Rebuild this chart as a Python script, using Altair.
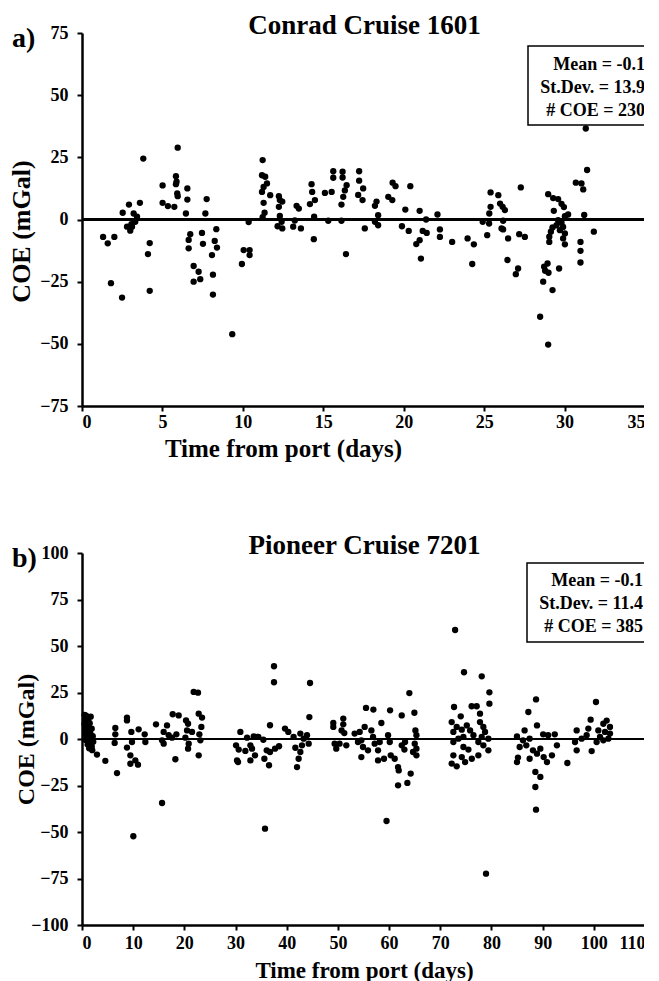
import altair as alt
import pandas as pd

# ---------------- data: panel a (Conrad Cruise 1601) ----------------
A_DAYS = [5.95, 3.81, 5.84, 5.88, 5.84, 5.01, 6.55, 5.92, 5.95, 6.55, 7.75, 5.01, 5.34, 5.74, 3.60, 2.92,
          2.53, 3.21, 3.42, 6.46, 7.67, 3.31, 3.07, 2.80, 3.11, 3.00, 1.31, 2.01, 1.60, 4.21, 4.10, 1.80,
          2.49, 4.21, 8.35, 6.73, 6.63, 7.46, 7.52, 8.25, 8.39, 6.63, 8.08, 6.94, 7.25, 8.14, 6.94, 7.35,
          8.14, 9.34, 10.36, 10.05, 10.42, 10.42, 9.94, 11.23, 11.19, 11.39, 11.50, 11.29, 11.19, 11.70,
          11.29, 11.35, 11.23,
          12.24, 12.30, 12.24, 12.45, 12.30, 12.16, 12.45, 12.41, 13.13, 13.23, 13.61, 13.34, 13.48, 14.27,
          14.31, 14.48, 14.17, 14.43, 14.41, 15.10, 15.52, 15.31, 15.62, 15.62, 16.20, 16.20, 16.45, 16.34,
          16.24, 16.13, 16.13, 16.41, 17.23, 17.23, 17.48, 17.17, 17.44, 18.31, 18.21, 18.41, 18.21, 18.41,
          17.58, 19.31, 19.49, 19.04, 19.29, 20.41, 20.10, 19.89, 20.31, 20.99, 21.39, 21.18, 21.43, 20.99,
          20.78, 21.07, 22.10, 22.25, 22.25, 23.01,
          31.32, 31.40, 30.70, 31.05, 31.16, 31.22, 31.82, 30.99, 30.99, 30.99, 23.97, 24.36, 24.26, 25.40,
          25.88, 25.40, 25.32, 25.99, 26.15, 26.29, 24.91, 25.31, 26.18, 26.08, 26.18, 25.19, 26.49, 27.28,
          27.18, 27.53, 26.45, 27.11, 26.97, 28.98, 29.29, 29.60, 29.81, 29.96, 29.33, 30.22, 30.02, 29.60,
          29.81, 29.50, 29.91, 29.71, 30.02, 29.91, 30.02, 29.25, 29.15, 29.05, 29.05, 28.94, 28.73, 28.79,
          29.00, 28.67, 29.25, 29.66, 28.48, 28.98]
A_COE = [28.9, 24.5, 17.4, 15.2, 14.2, 13.7, 12.5, 10.5, 9.4, 8.0, 8.2, 6.7, 5.4, 5.1, 6.7, 6.0,
         2.7, 2.4, 1.1, 2.4, 2.4, -0.9, -1.9, -2.9, -2.9, -4.5, -7.0, -7.0, -9.6, -9.5, -13.9, -25.6,
         -31.4, -28.7, -3.9, -5.9, -8.2, -5.4, -9.8, -8.6, -11.3, -11.6, -14.3, -18.7, -21.0, -22.2, -25.0, -24.0,
         -30.2, -46.1, -1.0, -12.3, -12.3, -14.3, -17.9, 23.9, 17.8, 17.2, 14.5, 13.1, 11.1, 9.8,
         6.7, 2.7, 0.9,
         9.4, 7.8, 5.1, 7.2, 1.4, -2.7, -3.6, -0.9, -2.9, -0.4, -3.6, 5.5, 4.4, 14.2,
         11.1, 7.8, 6.2, 1.1, -7.9, 10.7, 11.1, -0.5, 19.4, 16.8, 19.2, 16.9, 13.8, 11.7,
         9.1, 6.0, -0.5, -13.9, 19.4, 15.6, 12.5, 9.9, 7.8, 7.2, 5.5, 1.7, -0.9, -2.3,
         -3.6, 14.8, 13.4, 9.1, 7.8, 13.4, 4.0, -2.7, -4.6, 3.5, 0.0, -4.6, -5.4, -8.3,
         -9.9, -15.7, 2.0, -4.0, -7.0, -9.0,
         36.6, 19.9, 14.8, 14.5, 12.1, 1.8, -4.9, -9.0, -12.6, -17.3, -7.6, -10.0, -17.9, 10.9,
         9.8, 5.1, 2.4, 6.4, 5.1, 3.8, -0.9, -1.6, -0.5, -3.6, -4.0, -6.3, -7.6, 12.9,
         -5.9, -7.0, -16.3, -19.7, -22.0, 10.2, 8.6, 8.2, 6.3, 5.0, 3.5, 2.0, 1.3, -0.3,
         -1.3, -2.3, -3.0, -4.3, -5.6, -7.6, -10.0, -3.2, -4.9, -6.9, -9.0, -17.7, -19.0, -20.6,
         -21.4, -25.0, -28.4, -19.7, -39.1, -50.3]

# ---------------- data: panel b (Pioneer Cruise 7201) ----------------
B_DAYS = [0.5, 0.8, 1.0, 0.6, 1.2, 0.9, 0.5, 1.1, 0.7, 1.3, 0.9, 1.5, 0.6, 1.2, 1.7, 0.8, 1.4, 1.0, 1.8,
          0.7, 1.3, 1.6, 1.1, 1.9, 1.4, 2.0, 1.7, 1.5, 1.9, 2.1, 2.2,
          2.93, 4.56, 6.84, 6.51, 6.51, 6.38, 8.79, 8.79, 9.64, 8.79, 9.77, 9.45, 9.45, 10.42, 10.94, 11.07,
          12.25, 12.38, 14.46, 15.64, 16.61, 15.96, 15.64, 15.96, 16.94, 17.59, 18.44, 18.24, 17.72, 18.89,
          20.33, 20.72, 20.52, 21.50, 20.20, 20.85, 20.72, 21.82, 22.67, 22.80, 23.45, 23.32, 22.93, 23.13,
          22.80, 30.94, 30.10, 30.62, 30.29, 30.49, 31.92, 32.90, 32.25, 32.90, 33.55, 34.20, 33.22, 10.03,
          37.51, 37.51, 44.55, 44.42, 36.73, 39.66, 40.31, 34.45, 35.43, 33.80, 36.09, 36.73, 37.71, 38.50,
          35.63, 36.54, 41.34, 41.68, 42.66, 43.31, 42.98, 42.66, 42.33, 42.01, 44.29, 43.96, 49.10, 49.10,
          51.05, 51.05, 50.72, 51.25, 49.36, 49.68, 50.33, 51.64, 53.27, 54.25, 55.49, 56.93, 60.19, 62.47,
          64.94, 63.96, 54.58, 54.90, 54.58, 55.88, 56.54, 56.86, 57.19, 57.84, 58.49, 58.17, 57.84, 59.01,
          59.80, 60.13, 60.32, 61.10, 61.75, 61.88, 61.75, 63.57, 64.22, 62.47, 63.12, 62.99, 65.14, 65.34,
          65.01, 65.34, 65.34, 64.68, 55.23, 53.92, 59.50, 35.76,
          72.90, 74.64, 78.10, 79.60, 79.60, 72.69, 76.13, 77.11, 74.00, 77.76, 72.23, 73.21, 72.56, 74.20,
          75.18, 75.83, 74.52, 73.54, 72.56, 76.48, 77.76, 78.42, 78.75, 78.10, 79.40, 77.44, 78.42, 79.40,
          74.52, 75.50, 72.56, 74.20, 76.16, 77.44, 72.23, 73.21, 74.85, 78.94,
          88.71, 87.21, 88.90, 86.48, 84.99, 86.16, 87.46, 90.10, 91.07, 92.37, 86.81, 85.51, 85.18, 84.99,
          87.46, 88.11, 88.90, 89.55, 90.20, 91.82, 90.85, 92.79, 88.58, 89.55, 88.58, 88.71, 94.83, 96.65,
          96.33, 96.65, 97.62, 98.60, 98.93, 99.38, 100.42, 99.58, 100.88, 101.21, 101.86, 102.19, 102.51,
          103.16, 103.16, 102.84, 101.86, 100.55]
B_COE = [13.0, 12.5, 11.5, 10.5, 10.0, 9.0, 8.0, 7.5, 6.5, 6.0, 5.0, 4.5, 4.0, 3.0, 2.5, 2.0, 1.0, 0.5, 0.0,
         -0.5, -1.5, -2.5, -3.0, -4.0, -5.0, -6.0, 12.0, 8.5, 5.5, 1.5, -1.5,
         -8.4, -11.8, -18.3, 5.9, 2.5, -2.1, 11.5, 10.0, 3.8, -4.6, -1.6, -8.8, -13.3, -11.5, -13.8, 5.2,
         2.5, -1.6, 7.9, -34.4, 7.3, 3.8, -0.7, -2.5, 2.0, 0.7, 2.5, -10.9, 13.3, 12.7,
         10.0, 8.2, 4.6, 3.8, 0.7, -2.5, -5.2, 25.3, 24.9, 13.6, 11.5, 6.5, 2.5, -0.7,
         -8.8, 3.8, -3.4, -5.7, -11.5, -12.4, -6.4, -11.5, 0.7, -3.4, 1.4, 1.1, -5.2, -52.3,
         39.1, 30.5, 30.1, 11.8, 7.4, 5.6, 3.8, 1.1, -0.4, -8.8, -6.1, -7.0, -5.2, -3.9,
         -10.6, -14.1, 1.1, -4.7, 2.9, 0.2, -3.4, -7.0, -10.6, -15.1, -2.5, 2.0, 8.6, 6.5,
         11.0, 7.9, 4.6, 3.2, -2.5, -5.2, -2.5, -3.4, 2.9, 3.8, 16.7, 15.8, 15.4, 12.7,
         14.1, 24.7, -0.7, -4.3, -9.7, -6.1, 4.6, 1.1, -2.5, -6.1, 8.6, -1.6, -11.5, -10.6,
         2.0, -1.6, -8.8, -10.6, -15.1, -16.9, -24.9, -23.6, -18.6, -3.4, -1.6, -5.7, 4.6, 2.0,
         -2.5, -5.2, -8.8, -7.0, 6.5, -1.6, -44.1, -48.2,
         58.6, 35.9, 33.7, 25.1, 19.0, 17.2, 17.6, 17.6, 12.2, 13.6, 9.1, 6.5, 3.8, 5.0,
         7.3, 4.6, 1.1, 0.2, -1.6, 2.0, 9.1, 6.5, 3.8, 1.1, 0.2, -1.6, -3.4, -6.1,
         -4.3, -5.7, -8.8, -9.7, -10.6, -8.8, -13.2, -14.7, -12.4, -72.4,
         21.3, 14.5, 7.3, 4.6, 1.4, -0.7, 0.2, 2.5, 2.0, 2.5, -3.4, -4.3, -10.0, -12.4,
         -10.6, -6.1, -7.9, -5.2, -9.7, -8.8, -12.4, -3.4, -17.7, -20.4, -25.8, -38.0, -12.9, 4.6,
         -1.6, -6.1, 0.2, 2.0, 5.6, 10.4, 19.9, -6.5, 4.6, 1.1, 8.2, 3.8, 9.9,
         6.5, 2.9, 0.2, -0.7, -1.6]

A_STATS = ["Mean = -0.1", "St.Dev. = 13.9", "# COE = 230"]
B_STATS = ["Mean = -0.1", "St.Dev. = 11.4", "# COE = 385"]

A_XTICKS = [0, 5, 10, 15, 20, 25, 30, 35]
A_YTICKS = [-75, -50, -25, 0, 25, 50, 75]
B_XTICKS = [0, 10, 20, 30, 40, 50, 60, 70, 80, 90, 100, 110]
B_YTICKS = [-100, -75, -50, -25, 0, 25, 50, 75, 100]

FONT = "Liberation Serif"
W = 563


def one_text(**kw):
    return alt.Chart(pd.DataFrame({"k": [0]})).mark_text(font=FONT, fontWeight="bold", color="black", **kw)


def panel(days, coe, xdom, xticks, ydom, yticks, title, letter, stats, h, box, st, xax, yax):
    df = pd.DataFrame({"days": days, "coe": coe})
    xs = alt.Scale(domain=xdom, nice=False, zero=False)
    ys = alt.Scale(domain=ydom, nice=False, zero=False)
    base = alt.Chart(df)
    pts = base.mark_circle(size=40, color="black", opacity=1).encode(
        x=alt.X("days:Q", scale=xs, title="Time from port (days)",
                axis=alt.Axis(values=xticks, titleAlign="center", titleBaseline="top", **xax)),
        y=alt.Y("coe:Q", scale=ys, title="COE (mGal)",
                axis=alt.Axis(values=yticks, labelPadding=9, titleAlign="center",
                              titleBaseline="bottom", titleAngle=270, **yax)),
    )
    zero = base.mark_rule(color="black", strokeWidth=2).encode(y=alt.datum(0))
    bx0, bx1, by0, by1 = box
    rect = alt.Chart(pd.DataFrame({"k": [0]})).mark_rect(
        fill="white", stroke="black", strokeWidth=1.5
    ).encode(x=alt.value(bx0), x2=alt.value(bx1), y=alt.value(by0), y2=alt.value(by1))
    stx, sty = st
    txt = one_text(fontSize=18, align="right", baseline="top", lineHeight=23).encode(
        x=alt.value(stx), y=alt.value(sty), text=alt.value(stats))
    lab = one_text(fontSize=28, align="left", baseline="alphabetic").encode(
        x=alt.value(-70), y=alt.value(14), text=alt.value(letter))
    ttl = one_text(fontSize=27, align="center", baseline="alphabetic").encode(
        x=alt.value(W / 2 + 1), y=alt.value(1), text=alt.value(title))
    return alt.layer(zero, pts, rect, txt, lab, ttl).properties(width=W, height=h)


pa = panel(A_DAYS, A_COE, [0, 35], A_XTICKS, [-75, 75], A_YTICKS, "Conrad Cruise 1601", "a)",
           A_STATS, 373, (446, 569, 13, 92), (563, 23),
           dict(labelPadding=2, titleFontSize=25, titleX=201, titleY=30),
           dict(titleFontSize=26, titleX=-48, titleY=198))
pb = panel(B_DAYS, B_COE, [0, 110], B_XTICKS, [-100, 100], B_YTICKS, "Pioneer Cruise 7201", "b)",
           B_STATS, 372, (445, 563, 10, 89), (561, 19),
           dict(labelPadding=4, titleFontSize=23, titleX=282, titleY=34),
           dict(titleFontSize=24, titleX=-44, titleY=186))

chart = alt.vconcat(pa, pb, spacing=71).configure_view(stroke=None).configure_axis(
    grid=False, domainColor="black", domainWidth=2.5, tickColor="black", tickWidth=2, tickSize=5,
    labelFont=FONT, labelFontSize=18, labelFontWeight="bold", labelColor="black",
    titleFont=FONT, titleFontSize=24, titleFontWeight="bold", titleColor="black",
).properties(padding={"left": 0, "top": 4, "right": -8, "bottom": 0}, background="white")

chart.save("out.html", embed_options={"renderer": "svg", "actions": False})
